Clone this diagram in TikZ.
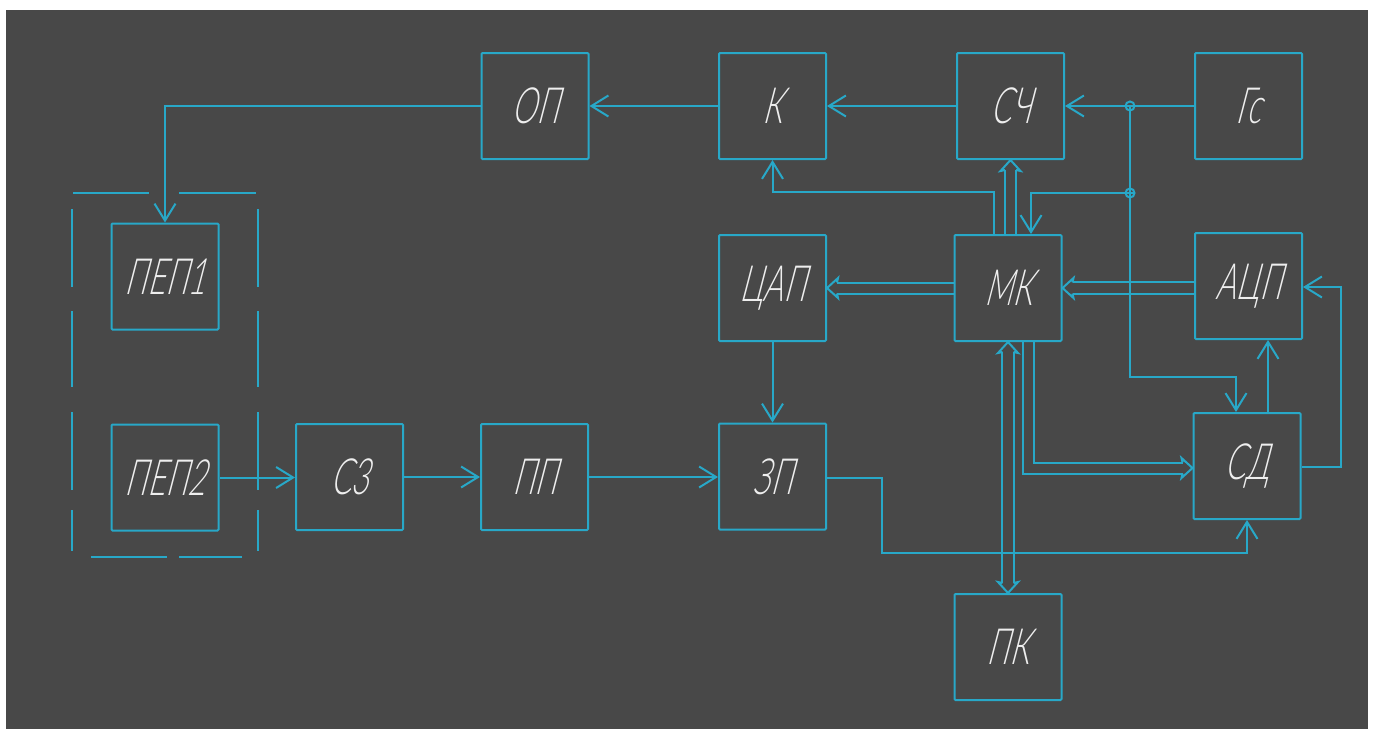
\documentclass[tikz,border=0pt]{standalone}
\usepackage{fontspec}
\usetikzlibrary{arrows.meta,calc}
\IfFontExistsTF{Lato Light}
  {\newfontfamily\blkfont{Lato Light}[FakeStretch=0.62,FakeSlant=0.26]}
  {\newfontfamily\blkfont{Lato}[FakeStretch=0.62,FakeSlant=0.26]}
\definecolor{bgdark}{RGB}{72,72,72}
\definecolor{cyanline}{RGB}{40,168,200}
\definecolor{labelink}{RGB}{238,238,238}
\tikzset{
  blk/.style={draw=cyanline, line width=2pt, rounded corners=1pt,
    minimum width=107pt, minimum height=106pt, inner sep=0pt,
    font=\blkfont\fontsize{50}{50}\selectfont, text=labelink},
  conn/.style={draw=cyanline, line width=2pt},
  arr/.style={conn, -{Straight Barb[length=17pt,width=21pt]}},
  frame/.style={draw=cyanline, line width=2pt},
  busarrow/.pic={\draw[conn, line join=miter]
    (-10,-5.5) -- (-11,-10) -- (0,0) -- (-11,10) -- (-10,5.5);},
}
\begin{document}
\begin{tikzpicture}[x=1pt,y=-1pt]
\useasboundingbox (0,0) rectangle (1375,729);
\fill[white] (0,0) rectangle (1375,729);
\fill[bgdark] (6,10) rectangle (1368,729);

% blocks
\node[blk] (op)   at (535,106)    {ОП};
\node[blk] (k)    at (772.5,106)  {К};
\node[blk] (sc)   at (1010.5,106) {СЧ};
\node[blk] (gs)   at (1248.5,106) {Гс};
\node[blk] (pep1) at (165,276.5)  {ПЕП1};
\node[blk] (dac)  at (772.5,288)  {ЦАП};
\node[blk] (mk)   at (1008,288)   {МК};
\node[blk] (adc)  at (1248.5,286) {АЦП};
\node[blk] (pep2) at (165,477.5)  {ПЕП2};
\node[blk] (sz)   at (349.5,477)  {С3};
\node[blk] (pp)   at (534.5,477)  {ПП};
\node[blk] (zp)   at (772.5,476.5){ЗП};
\node[blk] (sd)   at (1247,466)   {СД};
\node[blk] (pk)   at (1008,647)   {ПК};

% dashed enclosure of the two transducers
\foreach \a/\b in {73/149,179/256} \draw[frame] (\a,193) -- (\b,193);
\foreach \a/\b in {91/167,179/242} \draw[frame] (\a,557) -- (\b,557);
\foreach \a/\b in {209/287,311/387,412/490,510/551}{
  \draw[frame] (72,\a) -- (72,\b);
  \draw[frame] (258,\a) -- (258,\b);
}

% top chain
\draw[arr] (gs.west) -- (sc.east);
\draw[arr] (sc.west) -- (k.east);
\draw[arr] (k.west) -- (op.east);
\draw[arr] (op.west) -| (pep1.north);

% branch points of the generator line
\coordinate (j1) at (1130,106);
\coordinate (j2) at (1130,193);
\coordinate (j3) at (1130,377);
\coordinate (sdIn) at ([xshift=-11pt]sd.north);
\draw[arr] (j1) -- (j3) -| (sdIn);
\draw[arr] (j2) -| ([xshift=23pt]mk.north);
\draw[conn, fill=bgdark] (j1) circle (4.5);
\draw[conn, fill=bgdark] (j2) circle (4.5);
\draw[conn] ($(j2)+(-4.5,0)$) -- ($(j2)+(4.5,0)$);
\draw[conn] ($(j2)+(0,-4.5)$) -- ($(j2)+(0,4.5)$);
\draw[conn] ($(j1)+(-4.5,0)$) -- ($(j1)+(4.5,0)$);
\draw[conn] (j1) -- ($(j1)+(0,4.5)$);

% control line from МК to К
\draw[arr] ([xshift=-14pt]mk.north) -- ++(0,-42) -| (k.south);

% bus МК -> СЧ
\coordinate (mkTop) at (sc.south |- mk.north);
\draw[conn] ([xshift=-5.5pt]mkTop) -- ([xshift=-5.5pt,yshift=-10pt]sc.south);
\draw[conn] ([xshift=5.5pt]mkTop) -- ([xshift=5.5pt,yshift=-10pt]sc.south);
\pic[rotate=90] at (sc.south) {busarrow};

% bus МК -> ЦАП
\draw[conn] ([yshift=5.5pt]mk.west) -- ([xshift=10pt,yshift=5.5pt]dac.east);
\draw[conn] ([yshift=-5.5pt]mk.west) -- ([xshift=10pt,yshift=-5.5pt]dac.east);
\pic[rotate=180] at (dac.east) {busarrow};

% bus АЦП -> МК
\coordinate (adcOut) at (mk.east -| adc.west);
\draw[conn] ([yshift=6pt]adcOut) -- ([xshift=10pt,yshift=6pt]mk.east);
\draw[conn] ([yshift=-6pt]adcOut) -- ([xshift=10pt,yshift=-6pt]mk.east);
\pic[rotate=180] at (mk.east) {busarrow};

% bus МК -> СД
\coordinate (sdL) at ([yshift=-2pt]sd.west);
\coordinate (mkB) at ([xshift=20.5pt]mk.south);
\coordinate (bend) at (mkB |- sdL);
\draw[conn] ([xshift=-5.5pt]mkB) -- ($(bend)+(-5.5,5.5)$) -- ($(sdL)+(-10,5.5)$);
\draw[conn] ([xshift=5.5pt]mkB) -- ($(bend)+(5.5,-5.5)$) -- ($(sdL)+(-10,-5.5)$);
\pic at (sdL) {busarrow};

% bus МК <-> ПК
\draw[conn] ([xshift=-6pt,yshift=-10pt]mk.south) -- ([xshift=-6pt,yshift=10pt]pk.north);
\draw[conn] ([xshift=6pt,yshift=-10pt]mk.south) -- ([xshift=6pt,yshift=10pt]pk.north);
\pic[rotate=90] at (mk.south) {busarrow};
\pic[rotate=270] at (pk.north) {busarrow};

% analogue path
\draw[arr] (dac.south) -- (zp.north);
\draw[arr] (pep2.east) -- (pep2.east -| sz.west);
\draw[arr] (sz.east) -- (pp.west);
\draw[arr] (pp.east) -- (pp.east -| zp.west);
\draw[arr] ([yshift=-1pt]zp.east) -- ++(55,0) -- ++(0,75) -| (sd.south);

% СД -> АЦП links
\coordinate (sdA) at ([xshift=21pt]sd.north);
\draw[arr] (sdA) -- (sdA |- adc.south);
\draw[arr] ([yshift=-1pt]sd.east) -- ++(39,0) |- ([yshift=-1pt]adc.east);
\end{tikzpicture}
\end{document}
